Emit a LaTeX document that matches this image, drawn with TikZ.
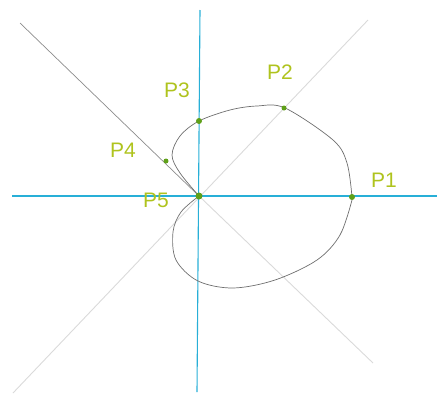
\documentclass[tikz,border=0pt]{standalone}
\usepackage{fontspec}
\setmainfont{Liberation Sans}
\begin{document}
\begin{tikzpicture}[x=1pt,y=-1pt,
  axis/.style={draw={rgb,255:red,40;green,175;blue,215},line width=1.1pt},
  diagdark/.style={draw={rgb,255:red,140;green,140;blue,140},line width=0.7pt},
  diaglight/.style={draw={rgb,255:red,218;green,218;blue,218},line width=0.9pt},
  curve/.style={draw={rgb,255:red,110;green,110;blue,110},line width=0.7pt},
  pt/.style={circle,fill={rgb,255:red,95;green,160;blue,25},inner sep=0pt,minimum size=6pt},
  lab/.style={text={rgb,255:red,175;green,195;blue,30},font=\fontsize{21}{23}\selectfont}]
\useasboundingbox (0,0) rectangle (437,397);
% axes ends
\coordinate (xl) at (12,196);
\coordinate (xr) at (437,196);
\coordinate (yt) at (200,10);
\coordinate (yb) at (197,392);
\coordinate (da) at (20,23);
\coordinate (db) at (373,363);
\coordinate (dc) at (368,20);
\coordinate (dd) at (13,393);
\coordinate (O) at (199,196);
% diagonals
\draw[diaglight] (dc) -- (dd);
\draw[diaglight] (O) -- (db);
\draw[diagdark] (da) -- (O);
% axes
\draw[axis] (xl) -- (xr);
\draw[axis] (yt) -- (yb);
% curve
\draw[curve] plot[smooth,tension=0.55] coordinates {
  (352,197) (347,163) (333,140) (285,108) (257,106) (230,110) (199,121) (180,136) (172,155) (180,173) (199,196)};
\draw[curve] plot[smooth,tension=0.55] coordinates {
  (199,196) (181,212) (173,232) (176,260) (198,281) (233,288) (275,280) (317,260) (340,235) (352,200)};
% points
\node[pt] (P1) at (352,197) {};
\node[pt,minimum size=5pt] (P2) at (284,108) {};
\node[pt] (P3) at (199,121) {};
\node[pt,minimum size=5pt] (P4) at (166,161) {};
\node[pt,minimum size=7pt] (P5) at (199,196) {};
% labels
\node[lab] (L1) at (384,180) {P1};
\node[lab] (L2) at (280,72) {P2};
\node[lab] (L3) at (177,90) {P3};
\node[lab] (L4) at (123,150) {P4};
\node[lab] (L5) at (156,200) {P5};
\end{tikzpicture}
\end{document}
